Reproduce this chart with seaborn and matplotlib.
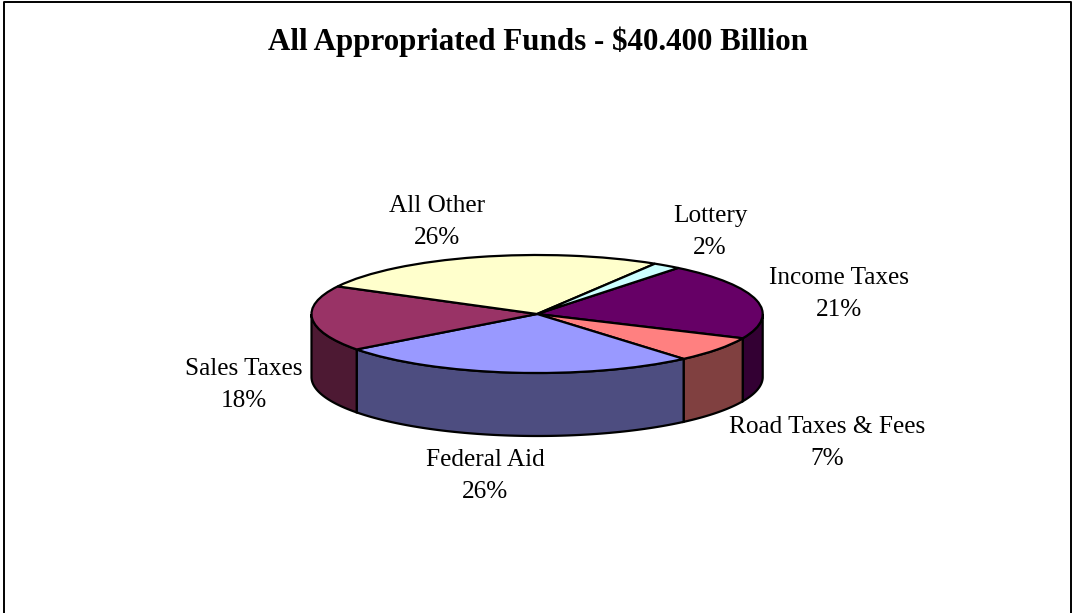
import numpy as np
import matplotlib
matplotlib.use("Agg")
import matplotlib.pyplot as plt
from matplotlib.lines import Line2D
from matplotlib.patches import Polygon
import seaborn as sns

title = "All Appropriated Funds - $40.400 Billion"
categories = ["Income Taxes", "Road Taxes & Fees", "Federal Aid", "Sales Taxes", "All Other", "Lottery"]
shares = [21, 7, 26, 18, 26, 2]
top_colors = ["#660066", "#FF8080", "#9999FF", "#993366", "#FFFFCC", "#CCFFFF"]
wall_colors = ["#330033", "#804040", "#4D4D80", "#4D1933", "#807F66", "#668080"]

W, H = 1072, 613
label_px = [(839, 294), (827, 443), (485, 476), (243.5, 385), (437, 222), (710, 232)]

sns.set_theme(style="white")
plt.rcParams["font.family"] = ["Liberation Serif", "DejaVu Serif"]
plt.rcParams["text.parse_math"] = False

fig = plt.figure(figsize=(W / 100, H / 100), dpi=100, facecolor="white")

# Axes spans the top ellipse plus the wall depth
left, right, top, bottom = 311.5, 762.7, 255.0, 436.0
ry_px = 59.0
depth = 63.0 / ry_px
ax = fig.add_axes([left / W, 1 - bottom / H, (right - left) / W, (bottom - top) / H])

start = 51.3
edge = dict(edgecolor="black", linewidth=1.6)
wedges, _ = ax.pie(shares, colors=sns.color_palette(top_colors), startangle=start,
                   counterclock=False, wedgeprops=edge)
for w in wedges:
    w.set_zorder(3)
    w.set_clip_on(False)

# Side wall: visible lower half of each slice, extruded downwards
angle = start
for share, col in zip(shares, wall_colors):
    a2 = angle
    a1 = angle - share * 3.6
    angle = a1
    lo, hi = np.radians(a1), np.radians(a2)
    # visible front part: between -180 and 0 degrees
    lo2, hi2 = max(lo, -np.pi), min(hi, 0.0)
    if hi2 <= lo2:
        continue
    t = np.linspace(lo2, hi2, 80)
    xs = np.cos(t)
    ys = np.sin(t)
    pts = np.r_[np.c_[xs, ys], np.c_[xs[::-1], ys[::-1] - depth]]
    ax.add_patch(Polygon(pts, closed=True, facecolor=col, edgecolor="black",
                         linewidth=1.6, zorder=2, clip_on=False))

ax.set_aspect("auto")
ax.set_xlim(-1, 1)
ax.set_ylim(-1 - depth, 1)
ax.set_axis_off()

fig.text(538 / W, 1 - 42 / H, title, ha="center", va="center",
         fontsize=22.3, fontweight="bold", color="black")

for cat, share, (x, y) in zip(categories, shares, label_px):
    fig.text(x / W, 1 - y / H, f"{cat}\n{share}%", ha="center", va="center",
             fontsize=18.2, linespacing=1.6, color="black")

# Chart frame: left, top and right only
fx = [3.5 / W, 3.5 / W, 1071 / W, 1071 / W]
fy = [0, 1 - 1.5 / H, 1 - 1.5 / H, 0]
fig.add_artist(Line2D(fx, fy, transform=fig.transFigure, color="black", linewidth=1.4))

fig.savefig("out.png", dpi=100, facecolor="white")
